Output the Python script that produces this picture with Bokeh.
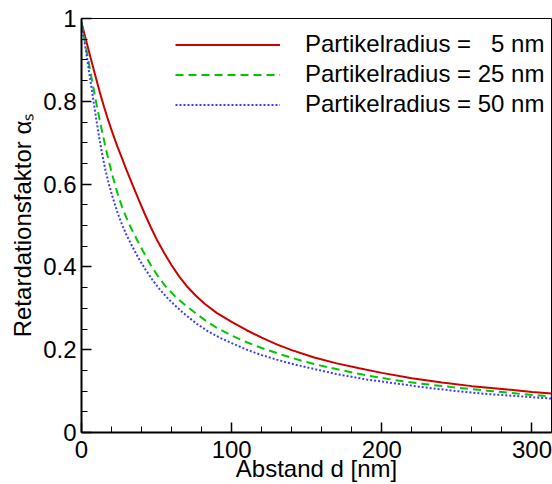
from bokeh.plotting import figure
from bokeh.models import Range1d, SingleIntervalTicker, CustomJSTickFormatter, Legend, LegendItem
from bokeh.embed import file_html
from bokeh.resources import INLINE

# Abstand d [nm] and Retardationsfaktor for three particle radii
d_r5 = [0, 3, 6, 9, 12, 15, 18, 21, 24, 27, 30, 34, 38, 42, 46, 50, 55, 60, 65, 70, 76, 82, 90,
        100, 110, 120, 130, 140, 155, 170, 185, 200, 220, 240, 260, 280, 300, 313]
a_r5 = [0.99, 0.948, 0.906, 0.865, 0.824, 0.787, 0.752, 0.720, 0.690, 0.662, 0.634, 0.598, 0.563,
        0.529, 0.497, 0.467, 0.434, 0.404, 0.377, 0.354, 0.331, 0.311, 0.289,
        0.267, 0.247, 0.229, 0.213, 0.199, 0.181, 0.167, 0.155, 0.144, 0.131, 0.121, 0.112, 0.105,
        0.098, 0.094]

d_r25 = [0, 2, 4, 6, 8, 10, 12, 14, 16, 18, 21, 24, 27, 30, 33, 37, 41, 46, 51, 56, 62, 68, 75,
         82, 90, 100, 110, 120, 135, 146, 160, 175, 190, 208, 226, 248, 270, 290, 313]
a_r25 = [0.99, 0.95, 0.91, 0.87, 0.831, 0.793, 0.757, 0.722, 0.689, 0.658, 0.616, 0.578, 0.545,
         0.518, 0.494, 0.465, 0.438, 0.405, 0.377, 0.353, 0.330, 0.311, 0.291,
         0.272, 0.253, 0.234, 0.218, 0.204, 0.186, 0.174, 0.161, 0.149, 0.138, 0.127, 0.118,
         0.109, 0.101, 0.094, 0.087]

d_r50 = [0, 2, 4, 6, 8, 10, 12, 14, 16, 18, 21, 24, 27, 30, 34, 38, 42, 47, 52, 58, 64, 70, 77,
         84, 92, 100, 110, 120, 130, 140, 153, 170, 190, 210, 233, 250, 270, 290, 313]
a_r50 = [0.99, 0.945, 0.897, 0.848, 0.800, 0.753, 0.708, 0.668, 0.633, 0.603, 0.565, 0.531, 0.502,
         0.477, 0.448, 0.421, 0.397, 0.370, 0.346, 0.322, 0.301, 0.282, 0.262,
         0.245, 0.229, 0.216, 0.200, 0.187, 0.176, 0.166, 0.155, 0.141, 0.128, 0.118, 0.107,
         0.100, 0.093, 0.088, 0.082]

labels = ["Partikelradius = \u20075 nm", "Partikelradius = 25 nm", "Partikelradius = 50 nm"]
xlabel = "Abstand d [nm]"
ylabel = "Retardationsfaktor \u03b1\u209b"
FONT = "Liberation Sans"
FS = "24px"

p = figure(width=552, height=484, output_backend="svg", toolbar_location=None,
           x_range=Range1d(0, 313), y_range=Range1d(0, 1),
           min_border_left=81, min_border_right=1, min_border_top=18, min_border_bottom=52)
p.xgrid.visible = False
p.ygrid.visible = False
p.outline_line_color = "black"
p.outline_line_width = 1

r1 = p.line(d_r5, a_r5, line_color="#cc0000", line_width=2)
r2 = p.line(d_r25, a_r25, line_color="#00c800", line_width=2, line_dash="8 5")
r3 = p.line(d_r50, a_r50, line_color="#3c3cff", line_width=2, line_dash="2 2")

xa = p.xaxis[0]
ya = p.yaxis[0]
xa.ticker = SingleIntervalTicker(interval=100, num_minor_ticks=5)
ya.ticker = SingleIntervalTicker(interval=0.2, num_minor_ticks=4)
ya.formatter = CustomJSTickFormatter(code="return (Math.round(tick*10)/10).toString();")
xa.axis_label = xlabel
ya.axis_label = ylabel
for ax in (xa, ya):
    ax.axis_line_width = 2
    ax.axis_line_color = "black"
    ax.major_tick_in = 10
    ax.major_tick_out = 0
    ax.minor_tick_in = 6
    ax.minor_tick_out = 0
    ax.major_tick_line_width = 1.5
    ax.minor_tick_line_width = 1
    ax.major_tick_line_color = "black"
    ax.minor_tick_line_color = "black"
    ax.major_label_text_font = FONT
    ax.major_label_text_font_size = FS
    ax.major_label_text_color = "black"
    ax.axis_label_text_font = FONT
    ax.axis_label_text_font_size = FS
    ax.axis_label_text_font_style = "normal"
    ax.axis_label_text_color = "black"
xa.major_label_standoff = 8
xa.axis_label_standoff = -6
ya.major_label_standoff = 5
ya.axis_label_standoff = 4

legend = Legend(items=[LegendItem(label=labels[0], renderers=[r1]),
                       LegendItem(label=labels[1], renderers=[r2]),
                       LegendItem(label=labels[2], renderers=[r3])],
                location=(94, 314), border_line_alpha=0, background_fill_alpha=0,
                label_text_font=FONT, label_text_font_size=FS, label_text_color="black",
                glyph_width=105, glyph_height=27, label_height=27, label_standoff=25,
                spacing=2, padding=0, margin=0)
p.add_layout(legend)

open("out.html", "w").write(file_html(p, INLINE))
